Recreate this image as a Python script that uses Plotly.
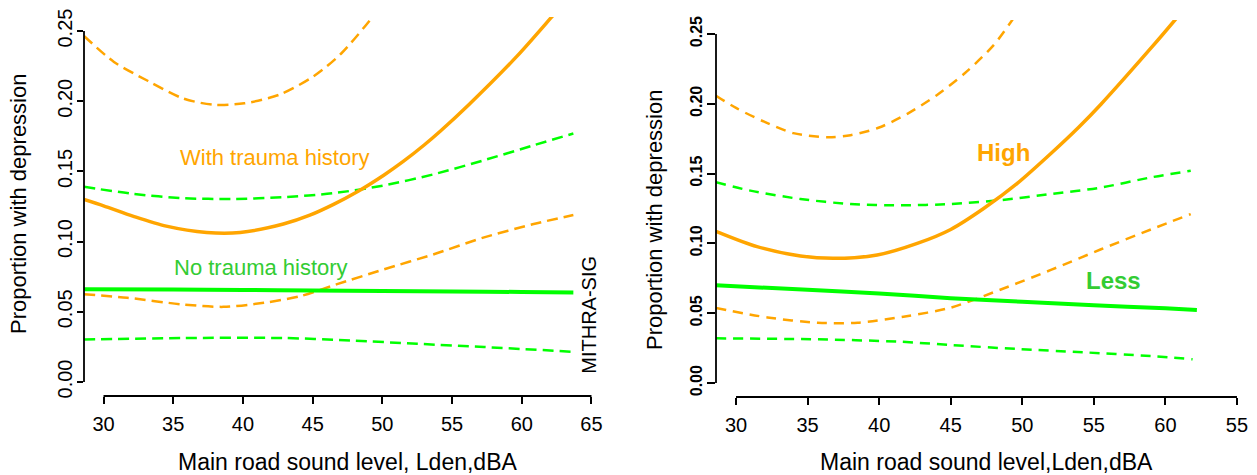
import plotly.graph_objects as go

# ---------------- data ----------------
x_ticks = [30, 35, 40, 45, 50, 55, 60, 65]
x_ticktext_left = ["30", "35", "40", "45", "50", "55", "60", "65"]
x_ticktext_right = ["30", "35", "40", "45", "50", "55", "60", "55"]
y_ticks = [0.00, 0.05, 0.10, 0.15, 0.20, 0.25]
y_ticktext = ["0.00", "0.05", "0.10", "0.15", "0.20", "0.25"]

# Left panel: trauma history
L_trauma_x = [28.6, 30, 32.15, 34.5, 37.4, 39.8, 42.9, 44.8, 46.5, 48.2, 50.1, 51.5, 53.0, 54.15, 56.2, 59.66, 62.1, 63.7]
L_trauma_y = [0.130, 0.1255, 0.118, 0.111, 0.1065, 0.1065, 0.1125, 0.1188, 0.1265, 0.1355, 0.1473, 0.1571, 0.1688, 0.1786, 0.1975, 0.2321, 0.2595, 0.278]
L_trauma_hi_x = [28.6, 30.75, 33.2, 35.7, 37.9, 40.1, 42.6, 45.1, 47.05, 49.3, 49.5]
L_trauma_hi_y = [0.2465, 0.228, 0.2144, 0.202, 0.1975, 0.1985, 0.2046, 0.218, 0.234, 0.2601, 0.263]
L_trauma_lo_x = [28.6, 31.7, 35.7, 38.6, 41.5, 44.1, 46.7, 50.1, 53.7, 57.3, 60.85, 63.7]
L_trauma_lo_y = [0.0625, 0.060, 0.0552, 0.0535, 0.0564, 0.0611, 0.0695, 0.0802, 0.091, 0.103, 0.1125, 0.1189]

L_none_x = [28.6, 35, 40, 45, 50, 55, 60, 63.7]
L_none_y = [0.066, 0.0658, 0.0656, 0.0652, 0.0648, 0.0645, 0.0641, 0.0638]
L_none_hi_x = [28.6, 32.15, 35.7, 39.3, 42.9, 46.5, 50.1, 53.7, 57.3, 60.85, 63.7]
L_none_hi_y = [0.139, 0.134, 0.1309, 0.1304, 0.1316, 0.1345, 0.140, 0.148, 0.158, 0.1686, 0.177]
L_none_lo_x = [28.6, 35.7, 42.9, 47.7, 52.5, 57.3, 63.7]
L_none_lo_y = [0.0302, 0.0313, 0.0313, 0.0296, 0.0272, 0.0249, 0.0215]

# Right panel: High / Less
R_high_x = [28.6, 31.47, 34.5, 36.8, 39.86, 42.66, 45.0, 47.3, 49.65, 52.0, 53.96, 55.5, 59.0, 60.65, 62.2]
R_high_y = [0.1087, 0.0977, 0.091, 0.0893, 0.0917, 0.100, 0.110, 0.125, 0.143, 0.1644, 0.1834, 0.1997, 0.240, 0.2598, 0.279]
R_high_hi_x = [28.6, 30, 32, 34, 36.4, 38, 40, 42, 44, 46, 48, 49.3, 49.5]
R_high_hi_y = [0.2058, 0.197, 0.187, 0.179, 0.176, 0.1775, 0.183, 0.193, 0.206, 0.222, 0.242, 0.26, 0.263]
R_high_lo_x = [28.6, 32.2, 35.7, 38.5, 41.7, 45.0, 48.5, 52.0, 55.5, 59.0, 61.77]
R_high_lo_y = [0.0537, 0.047, 0.0432, 0.0432, 0.0475, 0.054, 0.067, 0.081, 0.0958, 0.110, 0.121]

R_less_x = [28.6, 35, 40, 45, 50, 55, 60, 62.2]
R_less_y = [0.070, 0.0668, 0.0642, 0.0608, 0.0582, 0.0557, 0.0535, 0.0523]
R_less_hi_x = [28.6, 31.0, 34.5, 38.0, 41.5, 45.0, 48.5, 52.0, 55.5, 59.0, 61.77]
R_less_hi_y = [0.1438, 0.1378, 0.1318, 0.1282, 0.1273, 0.1282, 0.131, 0.1354, 0.140, 0.1473, 0.152]
R_less_lo_x = [28.6, 35.7, 41.5, 45.0, 49.65, 54.3, 59.0, 61.9]
R_less_lo_y = [0.032, 0.0313, 0.0296, 0.0272, 0.0244, 0.022, 0.0193, 0.017]

# ---------------- styling ----------------
ORANGE = "#FFA500"
GREEN = "#00FF00"
GREEN_TXT = "#33CC33"
FONT = "Liberation Sans, Arial, sans-serif"
W, H = 1257, 475

fig = go.Figure()


def add_line(x, y, color, dashed, xa, ya, width=None, dash=None):
    fig.add_trace(go.Scatter(
        x=x, y=y, mode="lines", xaxis=xa, yaxis=ya, showlegend=False, hoverinfo="skip",
        line=dict(color=color, width=width or (2.5 if dashed else 3.5),
                  dash=(dash if dashed else "solid"), shape="spline", smoothing=0.8),
    ))


dashL = "11px,6px"
dashR = "10px,7px"
add_line(L_trauma_hi_x, L_trauma_hi_y, ORANGE, True, "x", "y", dash=dashL)
add_line(L_trauma_lo_x, L_trauma_lo_y, ORANGE, True, "x", "y", dash=dashL)
add_line(L_none_hi_x, L_none_hi_y, GREEN, True, "x", "y", dash=dashL)
add_line(L_none_lo_x, L_none_lo_y, GREEN, True, "x", "y", dash=dashL)
add_line(L_trauma_x, L_trauma_y, ORANGE, False, "x", "y")
add_line(L_none_x, L_none_y, GREEN, False, "x", "y", width=4)

add_line(R_high_hi_x, R_high_hi_y, ORANGE, True, "x2", "y2", dash=dashR)
add_line(R_high_lo_x, R_high_lo_y, ORANGE, True, "x2", "y2", dash=dashR)
add_line(R_less_hi_x, R_less_hi_y, GREEN, True, "x2", "y2", dash=dashR)
add_line(R_less_lo_x, R_less_lo_y, GREEN, True, "x2", "y2", dash=dashR)
add_line(R_high_x, R_high_y, ORANGE, False, "x2", "y2")
add_line(R_less_x, R_less_y, GREEN, False, "x2", "y2", width=4)

common_x = dict(range=[28.6, 66.4], tickvals=x_ticks, ticks="outside", ticklen=7, tickwidth=1.8,
                tickcolor="black", showline=False, showgrid=False, zeroline=False,
                tickfont=dict(family=FONT, size=20, color="black"), ticklabelstandoff=3,
                fixedrange=True, automargin=False)
common_y = dict(range=[-0.01, 0.26], tickvals=y_ticks, ticktext=y_ticktext, ticks="outside",
                tickwidth=1.8, tickcolor="black", showline=False, showgrid=False, zeroline=False,
                tickangle=-90, fixedrange=True, automargin=False)

fig.update_layout(
    width=W, height=H, margin=dict(l=0, r=0, t=0, b=0),
    paper_bgcolor="white", plot_bgcolor="white",
    xaxis=dict(domain=[84 / W, 611 / W], anchor="y", ticktext=x_ticktext_left, **common_x),
    yaxis=dict(domain=[1 - 396 / H, 1 - 17 / H], anchor="x", ticklen=6, ticklabelstandoff=-3,
               tickfont=dict(family=FONT, size=20, color="black"), **common_y),
    xaxis2=dict(domain=[716 / W, 1.0], anchor="y2", ticktext=x_ticktext_right, **common_x),
    yaxis2=dict(domain=[1 - 397 / H, 1 - 20 / H], anchor="x2", ticklen=8, ticklabelstandoff=-1,
                tickfont=dict(family=FONT, size=16, color="black", weight="bold"), **common_y),
)

# axis lines spanning only the tick range (R style)
for xr, yr in (("x", "y"), ("x2", "y2")):
    fig.add_shape(type="line", xref=xr, yref=yr + " domain", x0=x_ticks[0], x1=x_ticks[-1], y0=0, y1=0,
                  line=dict(color="black", width=1.8))
    fig.add_shape(type="line", xref=xr + " domain", yref=yr, x0=0, x1=0, y0=y_ticks[0], y1=y_ticks[-1],
                  line=dict(color="black", width=1.8))

# in-plot labels
def label(x, y, xr, yr, text, size, color, angle=0):
    fig.add_annotation(x=x, y=y, xref=xr, yref=yr, text=text, showarrow=False, textangle=angle,
                       xanchor="center", yanchor="middle",
                       font=dict(family=FONT, size=size, color=color))


label(42.3, 0.160, "x", "y", "With trauma history", 22, ORANGE)
label(41.3, 0.0817, "x", "y", "No trauma history", 22, GREEN_TXT)
label(64.76, 0.048, "x", "y", "MITHRA-SIG", 20, "black", -90)
label(48.67, 0.1648, "x2", "y2", "<b>High</b>", 24, ORANGE)
label(56.36, 0.0731, "x2", "y2", "<b>Less</b>", 24, GREEN_TXT)

# axis titles
label(347.5 / W, 1 - 462 / H, "paper", "paper", "Main road sound level, Lden,dBA", 23, "black")
label(986 / W, 1 - 462 / H, "paper", "paper", "Main road sound level,Lden,dBA", 23, "black")
label(18.5 / W, 1 - 204.5 / H, "paper", "paper", "Proportion with depression", 22, "black", -90)
label(654 / W, 1 - 220 / H, "paper", "paper", "Proportion with depression", 22, "black", -90)

fig.write_html("out.html")
